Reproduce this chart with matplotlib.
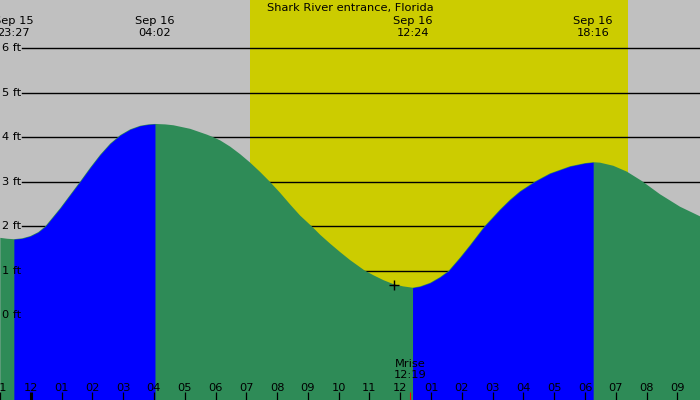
import matplotlib
matplotlib.use("Agg")
import matplotlib.pyplot as plt
import matplotlib.transforms as mtransforms

plt.rcParams['font.family'] = ['DejaVu Sans']

# ---- data (hours relative to Sep 16 00:00, heights in ft) ----
times = [-0.990, -0.763, -0.55, -0.276, -0.016, 0.244, 0.471, 0.698, 0.958, 1.282,
         1.607, 1.932, 2.256, 2.581, 2.906, 3.231, 3.555, 3.815, 4.0333,
         4.367, 4.636, 5.179, 5.721, 5.935, 6.153, 6.477, 6.802, 7.127, 7.451,
         7.753, 8.101, 8.425, 8.750, 9.140, 9.399, 9.724, 10.049, 10.373, 10.838,
         11.130, 11.455, 11.779, 12.094, 12.4,
         12.646, 12.971, 13.295, 13.571, 13.945, 14.269, 14.734, 15.244, 15.568,
         15.893, 16.380, 16.867, 17.516, 18.003, 18.2667,
         18.490, 18.922, 19.357, 19.844, 20.438, 21.088, 21.75]
heights = [1.74, 1.72, 1.71, 1.73, 1.78, 1.87, 2.00, 2.19, 2.41, 2.71,
           3.01, 3.32, 3.61, 3.86, 4.05, 4.18, 4.26, 4.29, 4.30,
           4.29, 4.27, 4.19, 4.06, 4.00, 3.93, 3.79, 3.62, 3.43, 3.22,
           3.01, 2.75, 2.49, 2.24, 1.99, 1.81, 1.61, 1.42, 1.24, 1.01,
           0.90, 0.79, 0.70, 0.65, 0.62,
           0.65, 0.73, 0.86, 1.00, 1.30, 1.58, 2.00, 2.38, 2.60,
           2.79, 3.01, 3.19, 3.35, 3.42, 3.44,
           3.43, 3.36, 3.23, 3.02, 2.72, 2.44, 2.22]

ext_times = [-0.55, 4.0333, 12.4, 18.2667]
ext_types = ['L', 'H', 'L', 'H']
ext_labels = ["Sep 15\n23:27", "Sep 16\n04:02", "Sep 16\n12:24", "Sep 16\n18:16"]

sunrise = 7.13
sunset = 19.39
moonrise = 12.3167
moonrise_label = "Mrise\n12:19"
marker_time = [11.81]
marker_height = [0.68]

hours = list(range(-1, 22))
hour_labels = ["%02d" % (12 if h % 12 == 0 else h % 12) for h in hours]
ft_levels = [0, 1, 2, 3, 4, 5, 6]
title = "Shark River entrance, Florida"

# ---- styling ----
GRAY = '#c0c0c0'
YELLOW = '#cccc00'
BLUE = '#0000ff'
GREEN = '#2e8b57'
FS = 8.2
W, H = 700, 400

fig = plt.figure(figsize=(7, 4), dpi=100)
ax = fig.add_axes([0, 0, 1, 1])
ax.set_facecolor(GRAY)
x0 = -30.5 / 30.8
x1 = (700 - 30.5) / 30.8
y0 = (315.3 - 400) / 44.5
y1 = 315.3 / 44.5
ax.set_xlim(x0, x1)
ax.set_ylim(y0, y1)
for s in ax.spines.values():
    s.set_visible(False)

ax.axvspan(sunrise, sunset, color=YELLOW, zorder=0.5, lw=0)

for lv in ft_levels:
    ax.axhline(lv, xmin=22 / W, xmax=1, color='black', lw=1, zorder=0.8)

# whole tide area green (falling), rising parts blue on top
ax.fill_between(times, heights, y0 - 1, color=GREEN, lw=0, zorder=1)
for i, (t, kind) in enumerate(zip(ext_times, ext_types)):
    if kind == 'L' and i + 1 < len(ext_times):
        a, b = t, ext_times[i + 1]
        mask = [(a <= tt <= b) for tt in times]
        ax.fill_between(times, heights, y0 - 1, where=mask, color=BLUE, lw=0, zorder=1.1)

ax.plot(marker_time, marker_height, marker='+', color='black', ms=7, mew=1,
        ls='none', zorder=3)

tr = mtransforms.blended_transform_factory(ax.transData, ax.transAxes)
tr_y = mtransforms.blended_transform_factory(ax.transAxes, ax.transData)
def yf(px):
    return 1 - px / H

for lv in ft_levels:
    ax.text(2 / W, lv, "%d ft" % lv, transform=tr_y, ha='left', va='center',
            fontsize=FS, zorder=4)

for t, lab in zip(ext_times, ext_labels):
    l1, l2 = lab.split("\n")
    ax.text(t, yf(24), l1, transform=tr, ha='center', va='baseline', fontsize=FS, zorder=4)
    ax.text(t, yf(36), l2, transform=tr, ha='center', va='baseline', fontsize=FS, zorder=4)

ax.text(0.5, yf(11.5), title, transform=ax.transAxes, ha='center', va='baseline',
        fontsize=FS, zorder=4)

ax.set_xticks(hours)
ax.set_xticklabels([])
ax.set_xticks([moonrise], minor=True)
ax.tick_params(axis='x', which='major', direction='in', length=8 * 0.72, width=0.9,
               color='black', bottom=True, top=False, labelbottom=False)
ax.tick_params(axis='x', which='minor', direction='in', length=8 * 0.72, width=0.8,
               color='red', bottom=True, top=False, labelbottom=False)
ax.set_yticks([])
for tk, h in zip(ax.xaxis.get_major_ticks(), hours):
    if h == 0:
        tk.tick1line.set_markeredgewidth(2.2)
for h, lab in zip(hours, hour_labels):
    ax.text(h, yf(390.7), lab, transform=tr, ha='center', va='baseline', fontsize=FS, zorder=4)

m1, m2 = moonrise_label.split("\n")
ax.text(moonrise, yf(366.7), m1, transform=tr, ha='center', va='baseline', fontsize=FS, zorder=4)
ax.text(moonrise, yf(378.3), m2, transform=tr, ha='center', va='baseline', fontsize=FS, zorder=4)

fig.savefig("out.png", dpi=100, facecolor=GRAY)
